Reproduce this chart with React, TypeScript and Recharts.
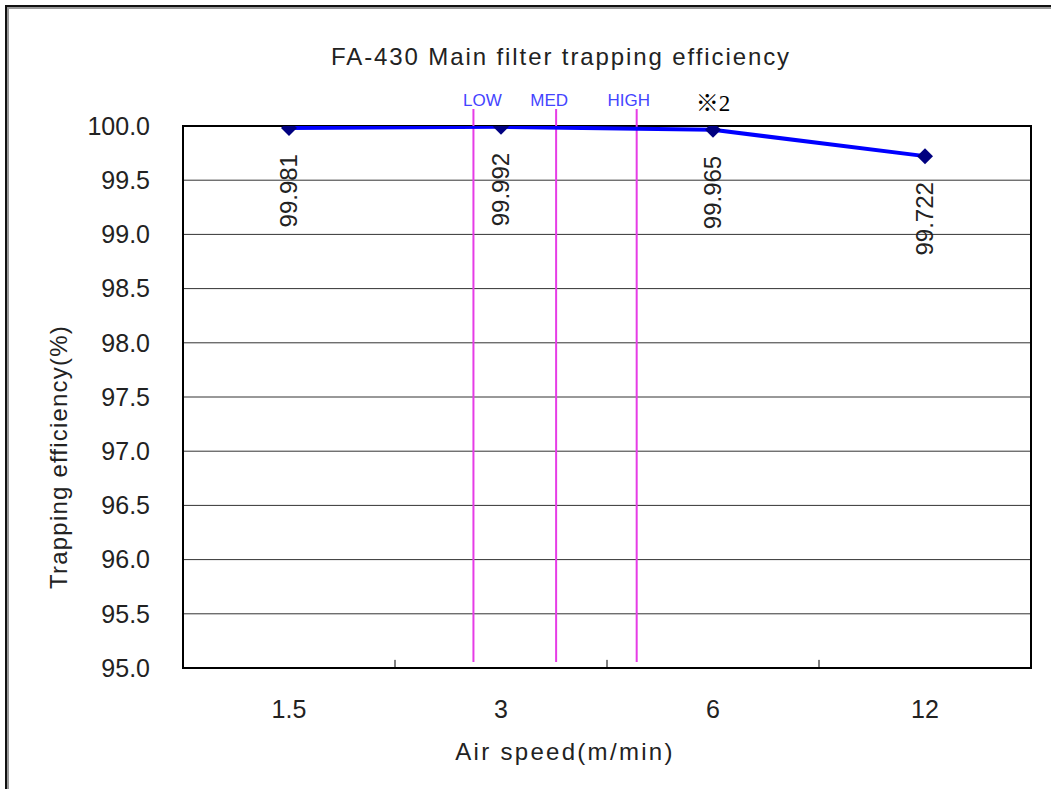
import React from "react";
import {
  LineChart,
  Line,
  XAxis,
  YAxis,
  CartesianGrid,
  ReferenceLine,
  ReferenceArea,
  ReferenceDot,
  LabelList,
} from "recharts";

// air speed categories (m/min) and measured efficiency (%)
const speeds = ["1.5", "3", "6", "12"];
const efficiency = [99.981, 99.992, 99.965, 99.722];
const yTicks = [95, 95.5, 96, 96.5, 97, 97.5, 98, 98.5, 99, 99.5, 100];

// fan modes, position measured in category units along the speed axis
const fanModes = ["LOW", "MED", "HIGH"];
const fanModePos = [1.37, 1.76, 2.14];
const noteText = "※2";
const noteIndex = 2;

const SANS = "'Liberation Sans', Arial, sans-serif";
const modeLabelShift = [9, -7, -8];

const data = speeds.map((s, i) => ({ pos: i + 0.5, speed: s, eff: efficiency[i] }));

const Diamond = (props: any) => {
  const { cx, cy, index } = props;
  if (cx == null || cy == null) return <g key={index} />;
  const r = 8;
  return (
    <polygon
      key={index}
      points={`${cx},${cy - r} ${cx + r},${cy} ${cx},${cy + r} ${cx - r},${cy}`}
      fill="#000080"
    />
  );
};

const ValueLabel = (props: any) => {
  const { x, y, value } = props;
  const ty = y + 26;
  return (
    <text
      x={x}
      y={ty}
      transform={`rotate(-90 ${x} ${ty})`}
      textAnchor="end"
      dominantBaseline="central"
      fontSize={24}
      fontFamily={SANS}
      fill="#222"
    >
      {Number(value).toFixed(3)}
    </text>
  );
};

export default function App() {
  return (
    <div
      style={{
        position: "absolute",
        left: 0,
        top: 0,
        width: 1051,
        height: 789,
        background: "#fff",
        overflow: "hidden",
      }}
    >
      {/* outer frame */}
      <div
        style={{
          position: "absolute",
          left: 5,
          top: 5,
          width: 1100,
          height: 840,
          borderLeft: "2px solid #111",
          borderTop: "2px solid #111",
        }}
      >
        <div
          style={{
            width: "100%",
            height: "100%",
            borderLeft: "2px solid #999",
            borderTop: "2px solid #999",
          }}
        />
      </div>

      <div
        style={{
          position: "absolute",
          left: 211,
          top: 43,
          width: 700,
          textAlign: "center",
          fontFamily: SANS,
          fontSize: 24,
          letterSpacing: 1.9,
          color: "#222",
          whiteSpace: "nowrap",
        }}
      >
        FA-430 Main filter trapping efficiency
      </div>

      <div style={{ position: "absolute", left: 0, top: 0 }}>
        <LineChart
          width={1051}
          height={789}
          data={data}
          margin={{ top: 126, right: 20, bottom: 61, left: 83 }}
        >
          <CartesianGrid vertical={false} stroke="#333" strokeWidth={1} />
          <XAxis
            type="number"
            dataKey="pos"
            domain={[0, 4]}
            ticks={[0.5, 1.5, 2.5, 3.5]}
            allowDataOverflow
            tickFormatter={(v: number) => speeds[Math.floor(v)]}
            axisLine={false}
            tickLine={false}
            tickSize={0}
            tickMargin={32}
            height={60}
            tick={{ fill: "#222", fontSize: 25, fontFamily: SANS }}
            label={(p: any) => {
              const vb = p.viewBox || {};
              const cx = (vb.x ?? 183) + (vb.width ?? 848) / 2 - 42;
              return (
                <text
                  x={cx}
                  y={760}
                  textAnchor="middle"
                  fontSize={24}
                  letterSpacing={2.3}
                  fontFamily={SANS}
                  fill="#222"
                >
                  Air speed(m/min)
                </text>
              );
            }}
          />
          <YAxis
            type="number"
            domain={[95, 100]}
            ticks={yTicks}
            allowDataOverflow
            tickFormatter={(v: number) => v.toFixed(1)}
            axisLine={false}
            tickLine={false}
            tickSize={0}
            tickMargin={33}
            width={100}
            tick={{ fill: "#222", fontSize: 25, fontFamily: SANS }}
            label={(p: any) => {
              const vb = p.viewBox || {};
              const bx = (vb.x ?? 83) - 16;
              const by = (vb.y ?? 126) + (vb.height ?? 542) / 2 + 60;
              return (
                <text
                  x={bx}
                  y={by}
                  transform={`rotate(-90 ${bx} ${by})`}
                  textAnchor="middle"
                  fontSize={24}
                  letterSpacing={1.2}
                  fontFamily={SANS}
                  fill="#222"
                >
                  Trapping efficiency(%)
                </text>
              );
            }}
          />
          <ReferenceArea
            x1={0}
            x2={4}
            y1={95}
            y2={100}
            fill="none"
            fillOpacity={0}
            stroke="#000"
            strokeWidth={2}
          />
          {[1, 2, 3].map((b) => (
            <ReferenceLine
              key={`tick-${b}`}
              segment={[
                { x: b, y: 95 },
                { x: b, y: 95.075 },
              ]}
              stroke="#000"
              strokeWidth={1}
            />
          ))}
          {fanModes.map((m, i) => (
            <ReferenceLine
              key={m}
              segment={[
                { x: fanModePos[i], y: 95.055 },
                { x: fanModePos[i], y: 100.157 },
              ]}
              ifOverflow="visible"
              stroke="#e63ce6"
              strokeWidth={2}
              label={{
                value: m,
                position: "top",
                offset: 3,
                dx: modeLabelShift[i],
                fill: "#4444ff",
                fontSize: 17,
                fontFamily: SANS,
              }}
            />
          ))}
          <ReferenceDot
            x={data[noteIndex].pos}
            y={100}
            r={1}
            fill="none"
            stroke="none"
            ifOverflow="visible"
            label={{
              value: noteText,
              position: "top",
              offset: 14,
              fill: "#000",
              fontSize: 23,
              fontFamily: "'Liberation Serif', 'Noto Sans CJK JP', serif",
            }}
          />
          <Line
            type="linear"
            dataKey="eff"
            stroke="#0000ff"
            strokeWidth={4}
            dot={Diamond}
            activeDot={false}
            isAnimationActive={false}
          >
            <LabelList dataKey="eff" content={ValueLabel} />
          </Line>
        </LineChart>
      </div>
    </div>
  );
}
